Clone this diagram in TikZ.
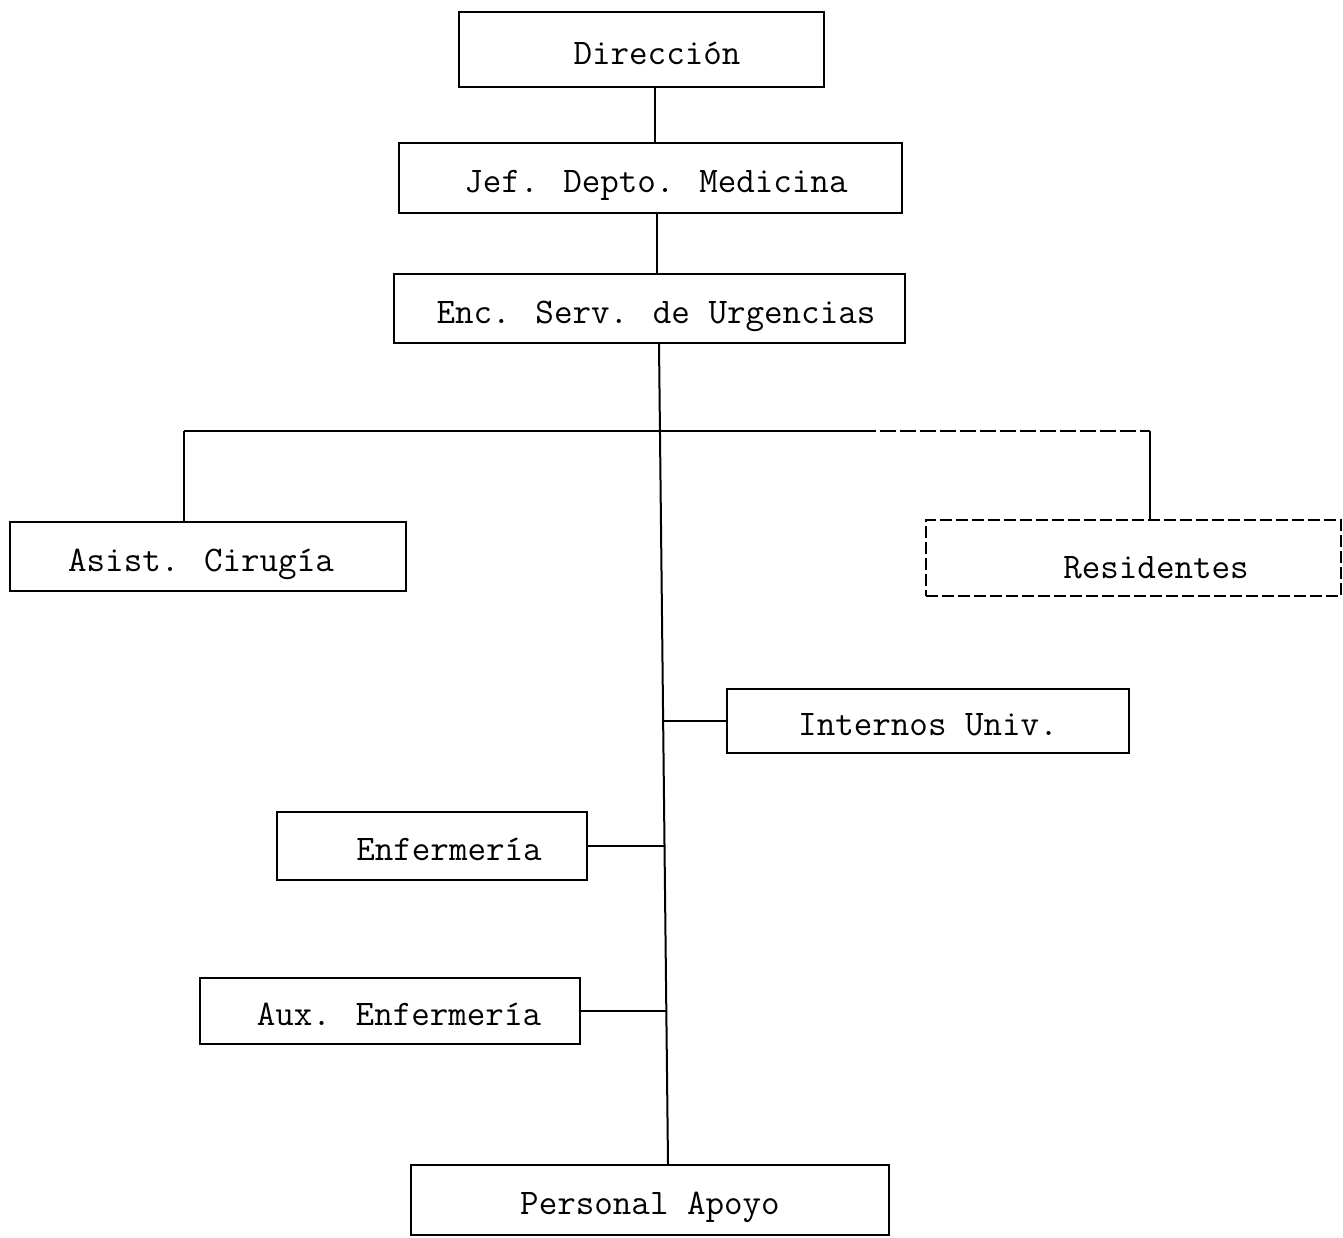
\documentclass[tikz,border=0pt]{standalone}
\begin{document}
\begin{tikzpicture}[x=0.5pt,y=-0.5pt,
  box/.style={draw,line width=1pt,rectangle,inner sep=0pt,text height=15pt,text depth=0.5pt,font=\ttfamily\fontsize{18}{20}\selectfont},
  dbox/.style={box,dash pattern=on 6pt off 2pt},
  conn/.style={line width=1pt}]
\useasboundingbox (0,0) rectangle (1343,1237);
\node[box,minimum width=182.5pt,minimum height=37.5pt] (d) at (641.5,49.5) {\hspace*{15.5pt}Dirección};
\node[box,minimum width=251.5pt,minimum height=35pt] (j) at (650.5,178) {\hspace*{5.5pt}Jef. Depto. Medicina};
\node[box,minimum width=255.5pt,minimum height=34.5pt] (e) at (649.5,308.5) {\hspace*{6.5pt}Enc. Serv. de Urgencias};
\node[box,minimum width=198pt,minimum height=34.5pt] (a) at (208,556.5) {\hspace*{-7pt}Asist. Cirugía};
\node[dbox,minimum width=207.5pt,minimum height=38pt] (r) at (1133.5,558) {\hspace*{22.5pt}\raisebox{-3pt}{Residentes}};
\node[box,minimum width=201pt,minimum height=32pt] (i) at (928,721) {Internos Univ.};
\node[box,minimum width=155pt,minimum height=34pt] (f) at (432,846) {\hspace*{17pt}Enfermería};
\node[box,minimum width=190pt,minimum height=33pt] (x) at (390,1011) {\hspace*{9pt}Aux. Enfermería};
\node[box,minimum width=239pt,minimum height=35pt] (p) at (650,1200) {Personal Apoyo};
\coordinate (bl) at (184,431);
\coordinate (br) at (1150,431);
\coordinate (ti) at (663,721);
\coordinate (tf) at (665,846);
\coordinate (tx) at (666,1011);
\draw[conn] (655,0 |- d.south) -- (655,0 |- j.north);
\draw[conn] (657,0 |- j.south) -- (657,0 |- e.north);
\draw[conn] (659,0 |- e.south) -- (668,0 |- p.north);
\draw[conn] (bl) -- (860,431);
\draw[conn,dash pattern=on 8pt off 2pt] (860,431) -- (br);
\draw[conn] (bl) -- (bl |- a.north);
\draw[conn] (br) -- (br |- r.north);
\draw[conn] (ti) -- (i.west);
\draw[conn] (f.east) -- (tf);
\draw[conn] (x.east) -- (tx);
\end{tikzpicture}
\end{document}
